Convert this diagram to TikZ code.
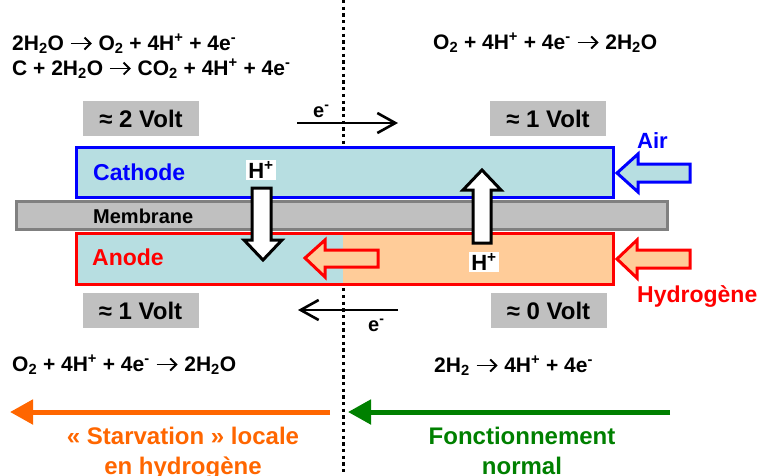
\documentclass[tikz,border=0pt]{standalone}
\usepackage{fontspec}
\setmainfont{Liberation Sans}
\usetikzlibrary{arrows.meta}
\definecolor{cyanfill}{RGB}{183,222,225}
\definecolor{peach}{RGB}{255,204,153}
\definecolor{boxgray}{RGB}{192,192,192}
\definecolor{memline}{RGB}{128,128,128}
\definecolor{starv}{RGB}{255,102,0}
\definecolor{normgreen}{RGB}{0,128,0}
\newcommand{\fsz}[1]{\fontsize{#1}{#1}\selectfont\bfseries}
\newcommand{\Hp}{H\textsuperscript{+}}
\newcommand{\el}{e\textsuperscript{-}}
\newcommand{\ra}{\tikz[baseline=0pt]{\draw[line width=1.9pt, -{Straight Barb[length=6pt,width=12pt]}] (0pt,6.5pt) -- (21pt,6.5pt);}}
\tikzset{
  eq/.style    = {anchor=base west, inner sep=0, font=\fsz{21}},
  volt/.style  = {fill=boxgray, minimum width=116pt, minimum height=35pt, inner sep=0, font=\fsz{24}},
  lab/.style   = {anchor=base west, inner sep=0, font=\fsz{23}},
  hplus/.style = {fill=white, inner sep=2pt, font=\fsz{22}},
  blk/.style   = {line width=3pt, line join=miter},
  elec/.style  = {line width=2.6pt, -{Straight Barb[length=18pt,width=20pt]}},
  trend/.style = {line width=5pt, -{Triangle[length=23pt,width=24pt]}},
  conc/.style  = {font=\fontsize{24}{30}\selectfont\bfseries, align=center, anchor=north, inner sep=0}
}
\begin{document}
\begin{tikzpicture}[x=1pt,y=-1pt]
  \useasboundingbox (0,0) rectangle (760,475);
  % separation
  \draw[line width=3pt, dash pattern=on 3.3pt off 3.4pt] (343,0) -- (343,475);

  % layers
  \draw[blk, draw=blue, fill=cyanfill] (76,147) rectangle (613,197);
  \draw[blk, draw=memline, fill=boxgray] (16,201) rectangle (667,229);
  \fill[cyanfill] (76,233) rectangle (343,284); \fill[peach] (343,233) rectangle (613,284);
  \draw[blk, draw=red] (76,233) rectangle (613,284);
  \node[lab, blue] (cat) at (93,180) {Cathode};
  \node[lab, font=\fsz{20}] (mem) at (93,223) {Membrane};
  \node[lab, red] (ano) at (92,265) {Anode};

  % gas inlets
  \draw[blk, draw=blue, fill=cyanfill] (617,173) -- (638,154) -- (638,164) -- (690,164) -- (690,182) -- (638,182) -- (638,192) -- cycle;
  \node[lab, blue, font=\fsz{22}] (air) at (637,148) {Air};
  \draw[blk, draw=red, fill=peach] (617,259) -- (637,240) -- (637,250) -- (690,250) -- (690,268) -- (637,268) -- (637,278) -- cycle;
  \node[lab, red] (hyd) at (637,302) {Hydrogène};
  \draw[blk, draw=red, fill=peach] (305,258) -- (325,240) -- (325,250) -- (378,250) -- (378,267) -- (325,267) -- (325,277) -- cycle;

  % protons
  \draw[blk, fill=white] (252,188) -- (271,188) -- (271,240) -- (282,240) -- (263,260) -- (244,240) -- (252,240) -- cycle;
  \node[hplus] (hd) at (261,170) {\Hp};
  \draw[blk, fill=white] (473,243) -- (491,243) -- (491,190) -- (501,190) -- (482,170) -- (463,190) -- (473,190) -- cycle;
  \node[hplus] (hu) at (484,262) {\Hp};

  % potentials
  \node[volt] (v2)  at (141,118.5) {≈ 2 Volt};
  \node[volt] (v1t) at (548,118.5) {≈ 1 Volt};
  \node[volt] (v1b) at (140.5,310.5) {≈ 1 Volt};
  \node[volt] (v0)  at (548.5,310.5) {≈ 0 Volt};

  % electrons
  \coordinate (ea) at (297,123); \coordinate (eb) at (398,123);
  \draw[elec] (ea) -- (eb); \node[eq, font=\fsz{20}] (et) at (313,117) {\el};
  \coordinate (ec) at (398,310); \coordinate (ed) at (298,310);
  \draw[elec] (ec) -- (ed); \node[eq, font=\fsz{20}] (eu) at (368,331) {\el};

  % reactions
  \node[eq] (r1) at (12,50) {2H\textsubscript{2}O \ra{} O\textsubscript{2} + 4\Hp{} + 4\el};
  \node[eq] (r2) at (12,75) {C + 2H\textsubscript{2}O \ra{} CO\textsubscript{2} + 4\Hp{} + 4\el};
  \node[eq] (r3) at (433,49) {O\textsubscript{2} + 4\Hp{} + 4\el{} \ra{} 2H\textsubscript{2}O};
  \node[eq] (r4) at (12,371) {O\textsubscript{2} + 4\Hp{} + 4\el{} \ra{} 2H\textsubscript{2}O};
  \node[eq] (r5) at (434,372) {2H\textsubscript{2} \ra{} 4\Hp{} + 4\el};

  % regimes
  \coordinate (sa) at (330,412); \coordinate (sb) at (10,412);
  \draw[trend, starv] (sa) -- (sb);
  \coordinate (na) at (670,412); \coordinate (nb) at (348,412);
  \draw[trend, normgreen] (na) -- (nb);
  \node[conc, starv] (st) at (183,427) {« Starvation » locale\\en hydrogène};
  \node[conc, normgreen] (fn) at (522,427) {Fonctionnement\\normal};
\end{tikzpicture}
\end{document}
